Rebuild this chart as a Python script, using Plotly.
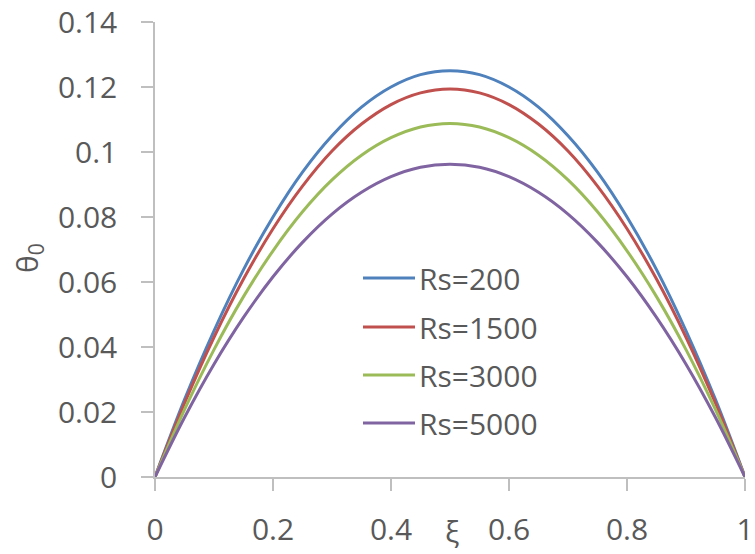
import plotly.graph_objects as go

# Dimensionless position across the channel
xi = [0.0, 0.05, 0.1, 0.15, 0.2, 0.25, 0.3, 0.35, 0.4, 0.45, 0.5,
      0.55, 0.6, 0.65, 0.7, 0.75, 0.8, 0.85, 0.9, 0.95, 1.0]

# Temperature profiles theta_0 for each Rs value
theta_rs200 = [0.0, 0.0238, 0.0450, 0.0638, 0.0800, 0.0938, 0.1050, 0.1138, 0.1200, 0.1238, 0.1250,
               0.1238, 0.1200, 0.1138, 0.1050, 0.0938, 0.0800, 0.0638, 0.0450, 0.0238, 0.0]
theta_rs1500 = [0.0, 0.0227, 0.0430, 0.0609, 0.0764, 0.0895, 0.1003, 0.1086, 0.1146, 0.1182, 0.1194,
                0.1182, 0.1146, 0.1086, 0.1003, 0.0895, 0.0764, 0.0609, 0.0430, 0.0227, 0.0]
theta_rs3000 = [0.0, 0.0207, 0.0392, 0.0555, 0.0696, 0.0816, 0.0914, 0.0990, 0.1044, 0.1077, 0.1088,
                0.1077, 0.1044, 0.0990, 0.0914, 0.0816, 0.0696, 0.0555, 0.0392, 0.0207, 0.0]
theta_rs5000 = [0.0, 0.0183, 0.0347, 0.0491, 0.0616, 0.0722, 0.0809, 0.0876, 0.0924, 0.0953, 0.0962,
                0.0953, 0.0924, 0.0876, 0.0809, 0.0722, 0.0616, 0.0491, 0.0347, 0.0183, 0.0]

series_names = ["Rs=200", "Rs=1500", "Rs=3000", "Rs=5000"]
series_values = [theta_rs200, theta_rs1500, theta_rs3000, theta_rs5000]
series_colors = ["#4F81BD", "#C0504D", "#9BBB59", "#8064A2"]

x_ticks = [0, 0.2, 0.4, 0.6, 0.8, 1]
x_tick_text = ["0", "0.2", "0.4", "0.6", "0.8", "1"]
y_ticks = [0, 0.02, 0.04, 0.06, 0.08, 0.1, 0.12, 0.14]
y_tick_text = ["0", "0.02", "0.04", "0.06", "0.08", "0.1", "0.12", "0.14"]

W, H = 755, 554
ML, MR, MT, MB = 155, 10, 22, 77
PW, PH = W - ML - MR, H - MT - MB

FONT = "Open Sans"
FS = 30
TXT = "#595959"
AXIS = "#BFBFBF"


def px_x(p):
    return (p - ML) / PW


def px_y(p):
    return (H - MB - p) / PH


fig = go.Figure()
for name, vals, col in zip(series_names, series_values, series_colors):
    fig.add_trace(go.Scatter(x=xi, y=vals, mode="lines", name=name,
                             line=dict(color=col, width=3, shape="spline"),
                             showlegend=False))

# Legend drawn as line samples with labels
shapes = []
annotations = []
legend_rows = [278, 327, 375, 423]
for name, col, row in zip(series_names, series_colors, legend_rows):
    shapes.append(dict(type="line", xref="paper", yref="paper",
                       x0=px_x(363), x1=px_x(415), y0=px_y(row), y1=px_y(row),
                       line=dict(color=col, width=3)))
    annotations.append(dict(xref="paper", yref="paper", x=px_x(417), y=px_y(row),
                            text=name, showarrow=False, xanchor="left", yanchor="middle",
                            font=dict(family=FONT, size=FS, color=TXT)))

# Axis titles
annotations.append(dict(xref="paper", yref="paper", x=px_x(452), y=px_y(530),
                        text="ξ", showarrow=False, xanchor="center", yanchor="middle",
                        font=dict(family=FONT, size=FS, color=TXT)))
annotations.append(dict(xref="paper", yref="paper", x=px_x(28), y=px_y(258),
                        text="θ<sub>0</sub>", showarrow=False, xanchor="center", yanchor="middle",
                        textangle=-90, font=dict(family=FONT, size=FS, color=TXT)))

fig.update_layout(
    width=W, height=H,
    margin=dict(l=ML, r=MR, t=MT, b=MB, autoexpand=False),
    paper_bgcolor="white", plot_bgcolor="white",
    font=dict(family=FONT, size=FS, color=TXT),
    shapes=shapes, annotations=annotations,
)
fig.update_xaxes(range=[0, 1], tickvals=x_ticks, ticktext=x_tick_text, automargin=False,
                 showgrid=False, zeroline=False, showline=True, linecolor=AXIS, linewidth=1.5,
                 ticks="outside", ticklen=12, tickcolor=AXIS, tickwidth=1.5,
                 ticklabelstandoff=13, tickfont=dict(family=FONT, size=FS, color=TXT))
fig.update_yaxes(range=[0, 0.14], tickvals=y_ticks, ticktext=y_tick_text, automargin=False,
                 showgrid=False, zeroline=False, showline=True, linecolor=AXIS, linewidth=1.5,
                 ticks="outside", ticklen=12, tickcolor=AXIS, tickwidth=1.5,
                 ticklabelstandoff=18, tickfont=dict(family=FONT, size=FS, color=TXT))

fig.write_html("out.html")
